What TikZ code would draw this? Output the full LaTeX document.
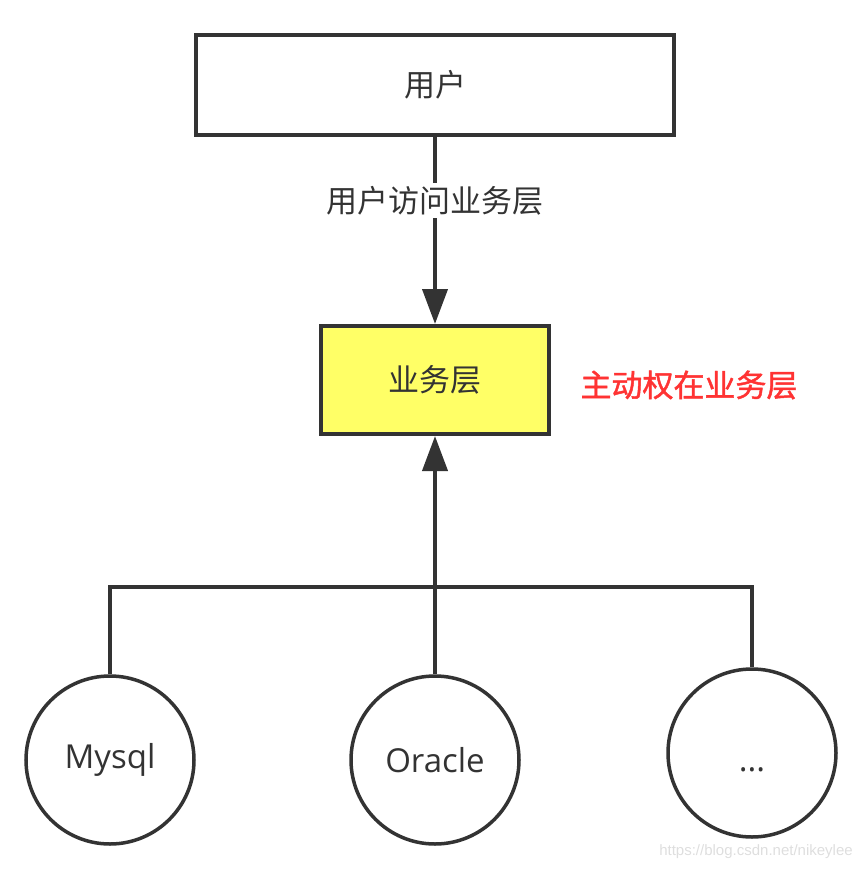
\documentclass[tikz,border=0pt]{standalone}
\usepackage{fontspec}
\setmainfont{Open Sans}
\newfontfamily\cjk{Noto Sans CJK SC}
\newfontfamily\cjkmed[FakeBold=1.5]{Noto Sans CJK SC}
\newfontfamily\wmfont{Liberation Sans}
\usetikzlibrary{arrows.meta}
\definecolor{linec}{HTML}{333333}
\definecolor{yell}{HTML}{FFFF66}
\definecolor{redt}{HTML}{FF3333}
\begin{document}
\begin{tikzpicture}[x=1pt,y=-1pt,
  boxst/.style={draw=linec,line width=4pt,inner sep=0pt,font=\cjk\fontsize{31}{36}\selectfont,text=linec},
  circst/.style={draw=linec,line width=3.5pt,circle,minimum size=168pt,inner sep=0pt,font=\fontsize{33}{38}\selectfont,text=linec},
  conn/.style={draw=linec,line width=4pt},
  arr/.style={conn,-{Triangle[width=25pt,length=35pt]}}]
\useasboundingbox (0,0) rectangle (867,870);
\node[boxst,minimum width=478pt,minimum height=100pt] (user) at (435,85) {用户};
\node[boxst,fill=yell,minimum width=228pt,minimum height=108pt] (biz) at (435,380) {业务层};
\node[font=\cjkmed\fontsize{31}{36}\selectfont,text=redt] (note) at (689,385) {主动权在业务层};
\node[circst] (mysql) at (110,760) {Mysql};
\node[circst] (oracle) at (435,760) {Oracle};
\node[circst] (etc) at (752,753) {\raisebox{-18pt}[0pt][0pt]{...}};
\coordinate (busL) at (110,587);
\coordinate (busM) at (435,587);
\coordinate (busR) at (752,587);
\draw[arr] (user.south) -- node[pos=0.34,fill=white,inner sep=3pt,font=\cjk\fontsize{31}{36}\selectfont,text=linec] (lbl) {用户访问业务层} (biz.north);
\draw[conn] (mysql.north) -- (busL) -- (busR) -- (etc.north);
\draw[arr] (oracle.north) -- (busM) -- (biz.south);
\node[font=\wmfont\fontsize{15}{18}\selectfont,text=black!13] (wm) at (756,852) {https://blog.csdn.net/nikeylee};
\end{tikzpicture}
\end{document}
